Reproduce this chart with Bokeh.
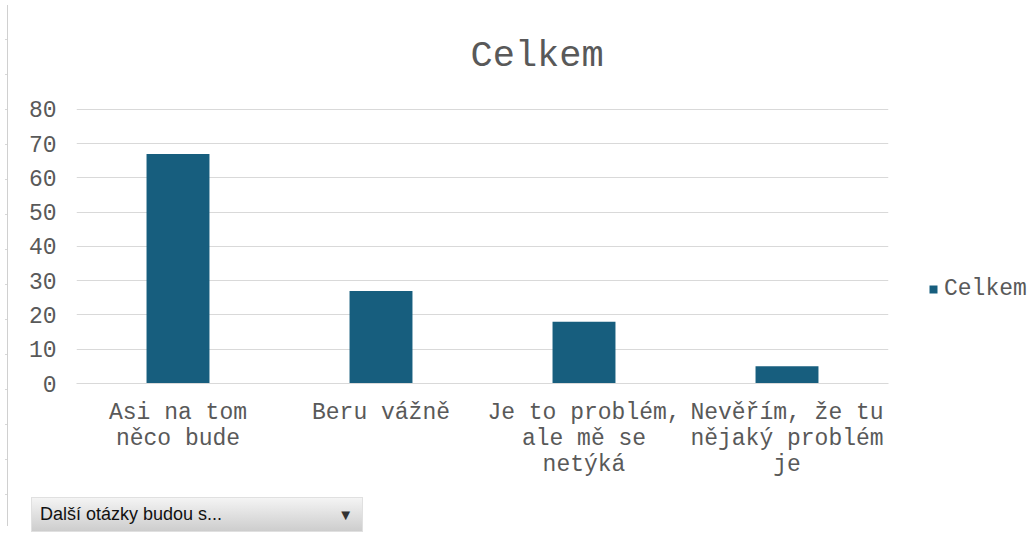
from bokeh.plotting import figure
from bokeh.models import ColumnDataSource, Legend, LegendItem, Div, FixedTicker
from bokeh.layouts import column, row
from bokeh.embed import file_html
from bokeh.resources import INLINE

categories = ["Asi na tom\nněco bude", "Beru vážně", "Je to problém,\nale mě se\nnetýká", "Nevěřím, že tu\nnějaký problém\nje"]
values = [67, 27, 18, 5]
series_name = "Celkem"
y_ticks = [0, 10, 20, 30, 40, 50, 60, 70, 80]

TEXT = "#595959"
BAR = "#175E7E"
GRID = "#D9D9D9"
FONT = "Liberation Mono"

src = ColumnDataSource(dict(cat=categories, val=values))

p = figure(x_range=categories, y_range=(0, 80.25), frame_width=812, frame_height=275,
           output_backend="svg", toolbar_location=None,
           min_border_left=63, min_border_right=140, min_border_top=108, min_border_bottom=109)
p.title.text = "Celkem"
p.title.align = "left"
p.title.text_font = FONT
p.title.text_font_size = "37px"
p.title.text_font_style = "normal"
p.title.text_color = TEXT
p.title.offset = 394
p.title.standoff = 63

r = p.vbar(x="cat", top="val", width=0.31, source=src, fill_color=BAR, line_color=None)

p.outline_line_color = None
p.background_fill_color = "white"
p.border_fill_color = "white"
p.xgrid.grid_line_color = None
p.ygrid.grid_line_color = GRID
p.ygrid.grid_line_width = 1
p.yaxis.ticker = FixedTicker(ticks=y_ticks)
p.yaxis.axis_line_color = None
p.yaxis.major_tick_line_color = None
p.yaxis.minor_tick_line_color = None
p.yaxis.major_label_standoff = 14
p.xaxis.axis_line_color = GRID
p.xaxis.major_tick_line_color = None
p.xaxis.minor_tick_line_color = None
p.xaxis.major_label_standoff = 10
for ax in (p.xaxis, p.yaxis):
    ax.major_label_text_font = FONT
    ax.major_label_text_font_size = "23px"
    ax.major_label_text_color = TEXT
p.xaxis.major_label_text_align = "center"
p.xaxis.major_label_text_line_height = 1.0

legend = Legend(items=[LegendItem(label=series_name, renderers=[r])],
                location=(40, 81), padding=0, margin=0, border_line_color=None,
                background_fill_alpha=0, glyph_width=10, glyph_height=10,
                label_standoff=6, label_text_font=FONT, label_text_font_size="23px",
                label_text_color=TEXT)
p.add_layout(legend, "right")

left_line = Div(text="", width=3, height=521,
                styles={"border-right": "1px solid #d0d0d0", "margin-top": "5px",
                        "background-image": "repeating-linear-gradient(to bottom, transparent 0px, transparent 34px, #d8d8d8 34px, #d8d8d8 35px)"})

dropdown = Div(text='<div style="display:flex;justify-content:space-between;align-items:center;'
                    'width:332px;height:35px;box-sizing:border-box;padding:0 9px 0 8px;'
                    'background:linear-gradient(to bottom,#f4f4f4,#cdcdcd);border:1px solid #e0e0e0;'
                    'font-family:\'Liberation Sans\';font-size:18px;color:#111;">'
                    '<span>Další otázky budou s...</span><span style="font-size:15px;color:#333">&#9660;</span></div>',
               width=332, height=35, styles={"margin-left": "18px", "margin-top": "5px"})

layout = row(left_line, column(p, dropdown))

open("out.html", "w").write(file_html(layout, INLINE))
